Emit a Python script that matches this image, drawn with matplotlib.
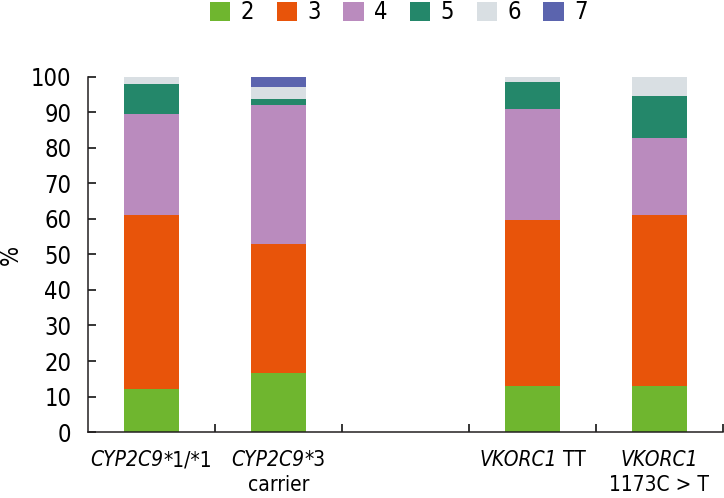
import matplotlib
matplotlib.use("Agg")
import matplotlib.pyplot as plt
from matplotlib.font_manager import FontProperties
import numpy as np

plt.rcParams['font.family'] = ['DejaVu Sans']
plt.rcParams['font.stretch'] = 'condensed'

# category labels: (italic gene part, normal part, second line)
categories = [("CYP2C9", "*1/*1", ""), ("CYP2C9", "*3", "carrier"), ("", "", ""),
              ("VKORC1", " TT", ""), ("VKORC1", "", "1173C > T")]
series_names = ["2", "3", "4", "5", "6", "7"]
s2 = [12.0, 16.5, 0, 13.0, 13.0]
s3 = [49.0, 36.5, 0, 46.7, 48.0]
s4 = [28.6, 39.0, 0, 31.3, 21.7]
s5 = [8.5, 1.7, 0, 7.5, 12.0]
s6 = [1.9, 3.6, 0, 1.5, 5.3]
s7 = [0.0, 2.7, 0, 0.0, 0.0]
series = [s2, s3, s4, s5, s6, s7]
colors = ["#6FB62F", "#E8540A", "#BA8BBE", "#24876A", "#D9DFE3", "#5B64AE"]

fig = plt.figure(figsize=(7.24, 4.98), dpi=100)
ax = fig.add_axes([0.1215, 0.1325, 0.877, 0.713])
x = np.arange(len(categories))
bottom = np.zeros(len(categories))
handles = []
for name, vals, c in zip(series_names, series, colors):
    v = np.array(vals)
    h = ax.bar(x, v, width=0.43, bottom=bottom, color=c, label=name, linewidth=0)
    handles.append(h)
    bottom += v

ax.set_xlim(-0.5, 4.5)
ax.set_ylim(0, 100)
ax.set_yticks(np.arange(0, 101, 10))
ax.set_xticks(np.arange(0.5, 4.6, 1.0))
ax.set_xticklabels([])
ax.tick_params(axis='x', which='major', direction='in', length=6, width=1.1)
ax.tick_params(axis='y', direction='in', length=6, width=1.1, labelsize=17, pad=12)
for s in ['top', 'right']:
    ax.spines[s].set_visible(False)
for s in ['left', 'bottom']:
    ax.spines[s].set_linewidth(1.1)
    ax.spines[s].set_color('#231f20')
ax.set_ylabel("%", fontsize=17)
ax.yaxis.set_label_coords(-0.103, 0.5)

fs = 15
fp_it = FontProperties(family='DejaVu Sans', style='italic', stretch='condensed', size=fs)
fp_rm = FontProperties(family='DejaVu Sans', stretch='condensed', size=fs)
fig.canvas.draw()
renderer = fig.canvas.get_renderer()
tr = ax.get_xaxis_transform()
for xi, (it, rm, line2) in zip(x, categories):
    if not (it or rm or line2):
        continue
    t1 = ax.text(0, 0, it, fontproperties=fp_it)
    t2 = ax.text(0, 0, rm, fontproperties=fp_rm)
    w1 = t1.get_window_extent(renderer).width if it else 0
    w2 = t2.get_window_extent(renderer).width if rm else 0
    t1.remove(); t2.remove()
    total = w1 + w2
    ax.annotate(it, xy=(xi, 0), xycoords=tr, xytext=(-total / 2, -18),
                textcoords='offset pixels', ha='left', va='top', fontproperties=fp_it)
    if rm:
        ax.annotate(rm, xy=(xi, 0), xycoords=tr, xytext=(-total / 2 + w1, -18),
                    textcoords='offset pixels', ha='left', va='top', fontproperties=fp_rm)
    if line2:
        ax.annotate(line2, xy=(xi, 0), xycoords=tr, xytext=(0, -43),
                    textcoords='offset pixels', ha='center', va='top', fontproperties=fp_rm)

fig.legend(handles=handles, labels=series_names, loc='upper center',
           bbox_to_anchor=(0.551, 1.042), ncol=6, frameon=False, fontsize=17,
           handlelength=0.85, handleheight=0.85, handletextpad=0.45, columnspacing=0.95)

fig.savefig("out.png", dpi=100)
